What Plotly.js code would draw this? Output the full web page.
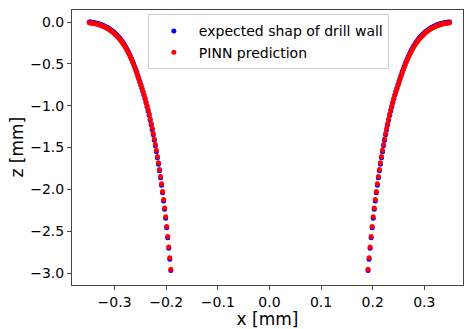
<!DOCTYPE html>
<html>
<head>
<meta charset="utf-8">
<script src="https://cdn.plot.ly/plotly-3.0.1.min.js"></script>
<style>html,body{margin:0;padding:0;background:#fff;}#chart{width:464px;height:329px;}</style>
</head>
<body>
<div id="chart"></div>
<script>
// Left wall x positions [mm]
var xLeft = [-0.349,-0.347,-0.345,-0.343,-0.341,-0.339,-0.337,-0.335,-0.333,-0.331,
-0.329,-0.327,-0.325,-0.323,-0.321,-0.319,-0.317,-0.315,-0.313,-0.311,
-0.309,-0.307,-0.305,-0.303,-0.301,-0.299,-0.297,-0.295,-0.293,-0.291,
-0.289,-0.287,-0.285,-0.283,-0.281,-0.279,-0.277,-0.275,-0.273,-0.271,
-0.269,-0.267,-0.265,-0.263,-0.261,-0.259,-0.257,-0.255,-0.253,-0.251,
-0.249,-0.247,-0.245,-0.243,-0.241,-0.239,-0.237,-0.235,-0.233,-0.231,
-0.229,-0.227,-0.225,-0.223,-0.221,-0.219,-0.217,-0.215,-0.213,-0.211,
-0.209,-0.207,-0.205,-0.203,-0.201,-0.199,-0.197,-0.195,-0.193,-0.191];
// Right wall x positions [mm]
var xRight = [0.349,0.347,0.345,0.343,0.341,0.339,0.337,0.335,0.333,0.331,
0.329,0.327,0.325,0.323,0.321,0.319,0.317,0.315,0.313,0.311,
0.309,0.307,0.305,0.303,0.301,0.299,0.297,0.295,0.293,0.291,
0.289,0.287,0.285,0.283,0.281,0.279,0.277,0.275,0.273,0.271,
0.269,0.267,0.265,0.263,0.261,0.259,0.257,0.255,0.253,0.251,
0.249,0.247,0.245,0.243,0.241,0.239,0.237,0.235,0.233,0.231,
0.229,0.227,0.225,0.223,0.221,0.219,0.217,0.215,0.213,0.211,
0.209,0.207,0.205,0.203,0.201,0.199,0.197,0.195,0.193,0.191];
// Expected depth of drill wall [mm]
var zExpected = [0.000,-0.001,-0.002,-0.004,-0.006,-0.008,-0.011,-0.014,-0.017,-0.021,
-0.025,-0.029,-0.034,-0.039,-0.044,-0.050,-0.056,-0.063,-0.070,-0.078,
-0.086,-0.095,-0.104,-0.114,-0.124,-0.135,-0.147,-0.159,-0.172,-0.186,
-0.201,-0.217,-0.234,-0.252,-0.271,-0.291,-0.313,-0.336,-0.360,-0.385,
-0.411,-0.439,-0.468,-0.499,-0.531,-0.564,-0.599,-0.635,-0.672,-0.710,
-0.749,-0.789,-0.830,-0.873,-0.918,-0.965,-1.014,-1.064,-1.116,-1.171,
-1.228,-1.287,-1.349,-1.413,-1.480,-1.550,-1.623,-1.699,-1.779,-1.862,
-1.950,-2.042,-2.138,-2.238,-2.345,-2.460,-2.580,-2.705,-2.835,-2.970];
// PINN predicted depth [mm]
var zPinn = [-0.008,-0.011,-0.012,-0.014,-0.016,-0.018,-0.021,-0.024,-0.027,-0.031,
-0.035,-0.039,-0.044,-0.049,-0.054,-0.060,-0.066,-0.073,-0.080,-0.088,
-0.096,-0.105,-0.114,-0.124,-0.134,-0.145,-0.157,-0.169,-0.182,-0.196,
-0.211,-0.227,-0.244,-0.262,-0.281,-0.301,-0.323,-0.346,-0.370,-0.395,
-0.421,-0.449,-0.478,-0.509,-0.541,-0.574,-0.609,-0.645,-0.682,-0.720,
-0.757,-0.794,-0.832,-0.871,-0.912,-0.955,-1.001,-1.048,-1.100,-1.155,
-1.212,-1.271,-1.333,-1.397,-1.464,-1.534,-1.607,-1.683,-1.763,-1.846,
-1.934,-2.026,-2.122,-2.222,-2.329,-2.444,-2.564,-2.689,-2.819,-2.954];

var seriesNames = ["expected shap of drill wall", "PINN prediction"];
var xTickVals = [-0.3,-0.2,-0.1,0.0,0.1,0.2,0.3];
var xTickText = ["\u22120.3","\u22120.2","\u22120.1","0.0","0.1","0.2","0.3"];
var yTickVals = [0.0,-0.5,-1.0,-1.5,-2.0,-2.5,-3.0];
var yTickText = ["0.0","\u22120.5","\u22121.0","\u22121.5","\u22122.0","\u22122.5","\u22123.0"];
var xTitle = "x [mm]";
var yTitle = "z [mm]";

var font = "DejaVu Sans, sans-serif";
var traces = [
  {type:"scatter", mode:"markers", name:seriesNames[0],
   x:xLeft.concat(xRight), y:zExpected.concat(zExpected),
   marker:{color:"#0000ff", size:5}},
  {type:"scatter", mode:"markers", name:seriesNames[1],
   x:xLeft.concat(xRight), y:zPinn.concat(zPinn),
   marker:{color:"#ff0000", size:5}}
];
var axisCommon = {showline:true, mirror:true, linecolor:"#444", linewidth:1,
  ticks:"outside", ticklen:4, tickcolor:"#444", tickwidth:1,
  showgrid:false, zeroline:false, tickfont:{family:font, size:14, color:"#000"}};
var layout = {
  width:464, height:329,
  margin:{l:72, r:1, t:10, b:44},
  paper_bgcolor:"#fff", plot_bgcolor:"#fff",
  font:{family:font, color:"#000"},
  showlegend:true,
  legend:{x:0.194, y:0.984, xanchor:"left", yanchor:"top",
    bgcolor:"#fff", bordercolor:"#d0d0d0", borderwidth:1, itemwidth:40,
    font:{family:font, size:14, color:"#000"}, tracegroupgap:0},
  xaxis:Object.assign({}, axisCommon, {range:[-0.3824,0.3749],
    tickmode:"array", tickvals:xTickVals, ticktext:xTickText,
    title:{text:xTitle, font:{family:font, size:17, color:"#000"}, standoff:2}}),
  yaxis:Object.assign({}, axisCommon, {range:[-3.1434,0.1434],
    tickmode:"array", tickvals:yTickVals, ticktext:yTickText}),
  annotations:[{text:yTitle, textangle:-90, xref:"paper", yref:"paper",
    x:-0.1432, y:0.5, xanchor:"center", yanchor:"middle", showarrow:false,
    font:{family:font, size:17, color:"#000"}}]
};
Plotly.newPlot("chart", traces, layout, {displayModeBar:false, staticPlot:true});
</script>
</body>
</html>
